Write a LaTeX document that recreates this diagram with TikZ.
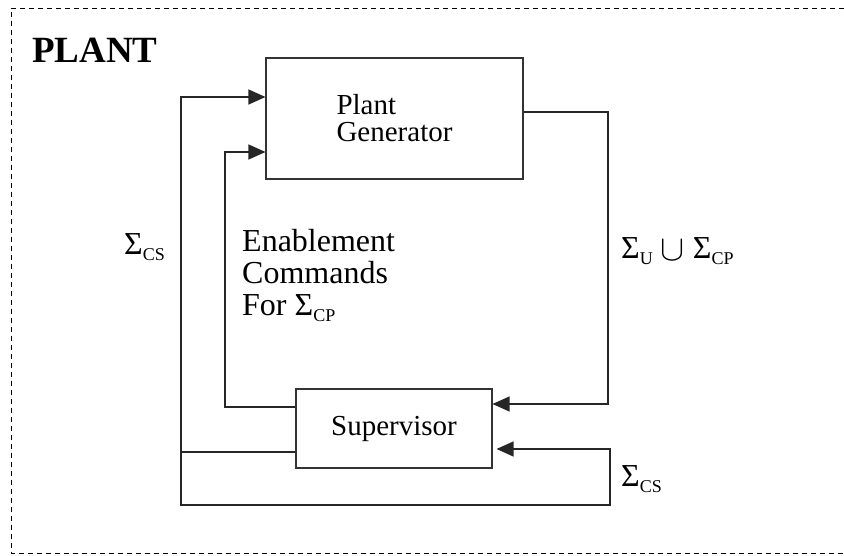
\documentclass[tikz,border=0pt]{standalone}
\usepackage{fontspec}
\setmainfont{Liberation Serif}
\usetikzlibrary{arrows.meta, positioning}
\newcommand{\sig}[1]{Σ\raisebox{-6pt}{\fontsize{18}{18}\selectfont #1}}

\begin{document}
\begin{tikzpicture}[x=1pt, y=-1pt,
    box/.style={rectangle, draw=black!80, line width=1.1pt, inner sep=0pt,
    align=left, font=\fontsize{29}{27}\selectfont},
    lbl/.style={anchor=west, inner sep=0pt, align=left,
    font=\fontsize{32}{32}\selectfont},
    line/.style={line width=1.2pt, draw=black!85},
    arrow/.style={line, -{Triangle[length=17pt, width=15pt]}},
    twoway/.style={line, {Triangle[length=17pt, width=15pt]}-{Triangle[length=17pt, width=15pt]}} ]

    \useasboundingbox (0,0) rectangle (844,556);

    % Dashed frame of the plant
    \draw[line width=0.8pt, dash pattern=on 5pt off 4pt]
        (844,8) -- (11,8) -- (11,553) -- (844,553);
    \node[lbl, font=\fontsize{37}{37}\selectfont\bfseries] (title) at (32,50) {PLANT};

    % Nodes for the two blocks
    \node[box, minimum width=257pt, minimum height=121pt] (gen) at (394.5,118.5)
        {Plant\\Generator};
    \node[box, minimum width=196pt, minimum height=79pt] (sup) at (394,428.5)
        {Supervisor};

    % Corners of the loops
    \coordinate (out_corner) at (608,112);
    \coordinate (loop_br) at (610,505);
    \coordinate (loop_bl) at (181,505);

    % Event labels
    \node[lbl] (cs_left) at (124,247) {\sig{CS}};
    \node[lbl] (enable) at (242,275) {Enablement\\Commands\\For \sig{CP}};
    \node[lbl] (events) at (621,251)
        {\sig{U} \raisebox{-2pt}{\scalebox{1.45}{$\cup$}} \sig{CP}};
    \node[lbl] (cs_right) at (621,479) {\sig{CS}};

    % Connectors
    \draw[arrow] (gen.east |- out_corner) -- (out_corner) |- (sup.east |- 0,404);
    \draw[arrow] (sup.west |- 0,407) -| (225,152) -- (gen.west |- 0,152);
    \draw[line] (sup.west |- 0,452) -- (loop_bl |- 0,452);
    \draw[twoway] ([xshift=4pt]sup.east |- 0,449) -| (loop_br) -- (loop_bl)
        |- (gen.west |- 0,97);

  \end{tikzpicture}
\end{document}
